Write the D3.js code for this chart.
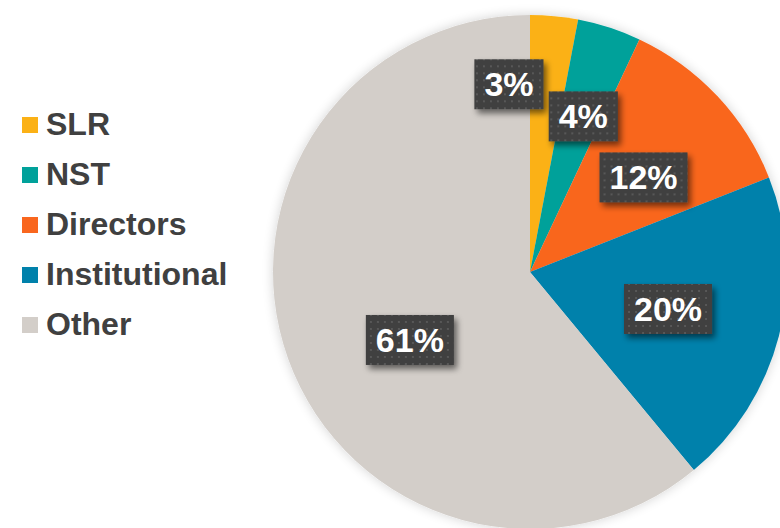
<!DOCTYPE html>
<html>
<head>
<meta charset="utf-8">
<script src="https://cdn.jsdelivr.net/npm/d3@7"></script>
<style>
  html, body { margin: 0; padding: 0; background: #ffffff; }
  svg { display: block; }
</style>
</head>
<body>
<svg id="chart" width="780" height="528"></svg>
<script>
// Shareholder breakdown
const categories = ["SLR", "NST", "Directors", "Institutional", "Other"];
const shares = [3, 4, 12, 20, 61];
const colours = ["#FBB116", "#00A19A", "#F9661E", "#0081AB", "#D3CEC9"];
// Label anchor: fraction of radius and angular shift (degrees) from slice middle
const labelRadius = [0.735, 0.64, 0.575, 0.556, 0.537];
const labelShift = [-11.8, 0.9, 3.4, 0.6, -9.7];

const svg = d3.select("#chart");
const cx = 530, cy = 272, R = 257;

const defs = svg.append("defs");

// soft halo around the pie
const pieShadow = defs.append("filter").attr("id", "pieShadow")
  .attr("x", "-10%").attr("y", "-10%").attr("width", "120%").attr("height", "120%");
pieShadow.append("feGaussianBlur").attr("in", "SourceAlpha").attr("stdDeviation", 6).attr("result", "b");
pieShadow.append("feComponentTransfer").attr("in", "b").attr("result", "s")
  .append("feFuncA").attr("type", "linear").attr("slope", 0.18);
const pm = pieShadow.append("feMerge");
pm.append("feMergeNode").attr("in", "s");
pm.append("feMergeNode").attr("in", "SourceGraphic");

// drop shadow for the value boxes
const boxShadow = defs.append("filter").attr("id", "boxShadow")
  .attr("x", "-20%").attr("y", "-20%").attr("width", "150%").attr("height", "160%");
boxShadow.append("feGaussianBlur").attr("in", "SourceAlpha").attr("stdDeviation", 3).attr("result", "b");
boxShadow.append("feOffset").attr("in", "b").attr("dx", 3).attr("dy", 4).attr("result", "o");
boxShadow.append("feComponentTransfer").attr("in", "o").attr("result", "s")
  .append("feFuncA").attr("type", "linear").attr("slope", 0.55);
const bm = boxShadow.append("feMerge");
bm.append("feMergeNode").attr("in", "s");
bm.append("feMergeNode").attr("in", "SourceGraphic");

// dotted texture of the value boxes
const pat = defs.append("pattern").attr("id", "dots")
  .attr("patternUnits", "userSpaceOnUse").attr("width", 7).attr("height", 7);
pat.append("rect").attr("width", 7).attr("height", 7).attr("fill", "#404040");
pat.append("rect").attr("x", 2).attr("y", 2).attr("width", 2).attr("height", 2).attr("fill", "#585858");

const pie = d3.pie().sort(null).value(d => d)(shares);
const arc = d3.arc().innerRadius(0).outerRadius(R);

const g = svg.append("g").attr("transform", `translate(${cx},${cy})`);
g.append("g").attr("filter", "url(#pieShadow)")
  .selectAll("path").data(pie).join("path")
  .attr("d", arc)
  .attr("fill", (d, i) => colours[i]);

// value labels
const labels = g.append("g").selectAll("g").data(pie).join("g")
  .attr("transform", (d, i) => {
    const a = (d.startAngle + d.endAngle) / 2 + labelShift[i] * Math.PI / 180;
    const r = R * labelRadius[i];
    return `translate(${r * Math.sin(a)},${-r * Math.cos(a)})`;
  });

labels.each(function(d, i) {
  const sel = d3.select(this);
  const txt = sel.append("text")
    .attr("text-anchor", "middle")
    .attr("y", 12)
    .attr("font-family", "Liberation Sans, Arial, sans-serif")
    .attr("font-weight", "bold")
    .attr("font-size", 34)
    .attr("fill", "#ffffff")
    .text(shares[i] + "%");
  const w = txt.node().getComputedTextLength() + 20;
  sel.insert("rect", "text")
    .attr("x", -w / 2).attr("y", -25)
    .attr("width", w).attr("height", 50)
    .attr("fill", "url(#dots)")
    .attr("filter", "url(#boxShadow)");
});

// legend
const legend = svg.append("g").attr("transform", "translate(22,135)");
const rows = legend.selectAll("g").data(categories).join("g")
  .attr("transform", (d, i) => `translate(0,${i * 50})`);
rows.append("rect")
  .attr("x", 0).attr("y", -18).attr("width", 16).attr("height", 16)
  .attr("fill", (d, i) => colours[i]);
rows.append("text")
  .attr("x", 24).attr("y", 0)
  .attr("font-family", "Liberation Sans, Arial, sans-serif")
  .attr("font-weight", "bold")
  .attr("font-size", 32)
  .attr("fill", "#404040")
  .text(d => d);
</script>
</body>
</html>
